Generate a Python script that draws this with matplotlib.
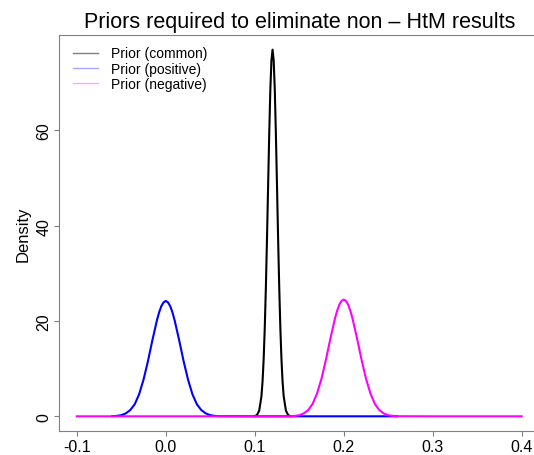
import matplotlib
matplotlib.use("Agg")
import matplotlib.pyplot as plt

plt.rcParams['font.family'] = ['Liberation Sans', 'DejaVu Sans']

# ------------ DATA ------------
common_x = [0.100, 0.1025, 0.105, 0.1075, 0.10875, 0.110, 0.11125, 0.1125, 0.11375,
            0.115, 0.11625, 0.1175, 0.11875, 0.120, 0.12125, 0.1225, 0.12375,
            0.125, 0.12625, 0.1275, 0.12875, 0.130, 0.13125, 0.1325, 0.135,
            0.1375, 0.140]
common_y = [0.05, 0.26, 1.2, 4.2, 7.3, 12.0, 18.6, 27.1, 37.2,
            48.3, 59.2, 68.5, 74.7, 76.9, 74.7, 68.5, 59.2,
            48.3, 37.2, 27.1, 18.6, 12.0, 7.3, 4.2, 1.2,
            0.26, 0.05]

positive_x = [-0.060, -0.055, -0.050, -0.045, -0.040, -0.035, -0.030, -0.025, -0.020,
              -0.015, -0.010, -0.0075, -0.005, -0.0025, 0.000, 0.0025, 0.005, 0.0075,
              0.010, 0.015, 0.020, 0.025, 0.030, 0.035, 0.040, 0.045, 0.050, 0.055,
              0.060, 0.100, 0.200, 0.260]
positive_y = [0.03, 0.09, 0.24, 0.6, 1.3, 2.5, 4.6, 7.7, 11.6,
              16.0, 20.1, 21.8, 23.1, 23.9, 24.2, 23.9, 23.1, 21.8,
              20.1, 16.0, 11.6, 7.7, 4.6, 2.5, 1.3, 0.6, 0.24, 0.09,
              0.03, 0.0, 0.0, 0.0]

negative_x = [-0.100, 0.000, 0.100, 0.140, 0.145, 0.150, 0.155, 0.160, 0.165, 0.170,
              0.175, 0.180, 0.185, 0.190, 0.1925, 0.195, 0.1975, 0.200, 0.2025,
              0.205, 0.2075, 0.210, 0.215, 0.220, 0.225, 0.230, 0.235, 0.240,
              0.245, 0.250, 0.255, 0.260, 0.300, 0.400]
negative_y = [0.0, 0.0, 0.0, 0.02, 0.08, 0.22, 0.6, 1.3, 2.6, 4.8,
              7.9, 11.9, 16.3, 20.4, 22.1, 23.4, 24.2, 24.5, 24.2,
              23.4, 22.1, 20.4, 16.3, 11.9, 7.9, 4.8, 2.6, 1.3,
              0.6, 0.22, 0.08, 0.02, 0.0, 0.0]

series_labels = ["Prior (common)", "Prior (positive)", "Prior (negative)"]
x_ticks = [-0.1, 0.0, 0.1, 0.2, 0.3, 0.4]
x_tick_labels = ["-0.1", "0.0", "0.1", "0.2", "0.3", "0.4"]
y_ticks = [0, 20, 40, 60]

# ------------ PLOT ------------
fig = plt.figure(figsize=(5.34, 4.56), dpi=100)
ax = fig.add_axes([59 / 534, 24 / 456, 480.5 / 534, 396 / 456])

ax.plot(common_x, common_y, color="black", linewidth=1.5)
ax.plot(positive_x, positive_y, color="#0000ff", linewidth=1.5)
ax.plot(negative_x, negative_y, color="#ff00ff", linewidth=1.5)

ax.set_xlim(-0.12, 0.42)
ax.set_ylim(-3.08, 79.98)
ax.set_xticks(x_ticks)
ax.set_xticklabels(x_tick_labels)
ax.set_yticks(y_ticks)
ax.tick_params(axis="both", colors="#808080", labelcolor="black", labelsize=11.5,
               length=3.5, pad=2, direction="out")
plt.setp(ax.get_yticklabels(), rotation=90, va="center")
for side in ["left", "bottom", "top"]:
    ax.spines[side].set_color("#808080")
ax.spines["right"].set_visible(False)

ax.set_ylabel("Density", fontsize=12, labelpad=4)
ax.set_title("Priors required to eliminate non \u2013 HtM results", fontsize=15.5, pad=6)

# faded legend handles like the reference
handles = [plt.Line2D([], [], color="black", alpha=0.5, linewidth=1),
           plt.Line2D([], [], color="#0000ff", alpha=0.35, linewidth=1),
           plt.Line2D([], [], color="#ff00ff", alpha=0.35, linewidth=1)]
ax.legend(handles, series_labels, loc="upper left", bbox_to_anchor=(0.018, 0.985),
          frameon=False, fontsize=10, handlelength=1.8, handletextpad=0.9,
          labelspacing=0.1, borderaxespad=0)

fig.savefig("out.png", dpi=100)
